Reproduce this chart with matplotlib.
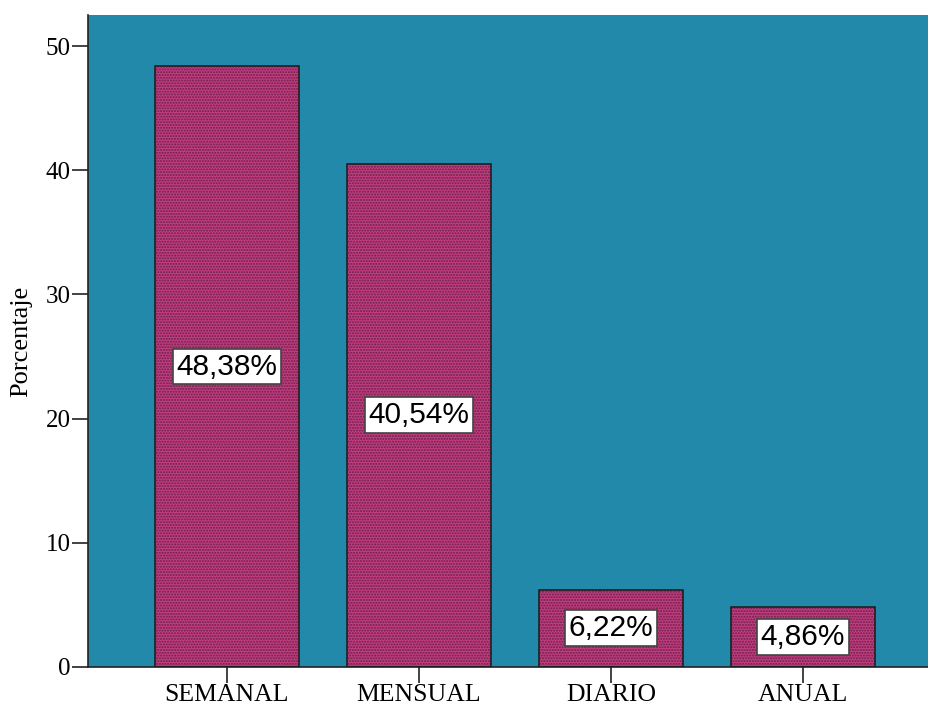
import matplotlib.pyplot as plt

categorias = ["SEMANAL", "MENSUAL", "DIARIO", "ANUAL"]
porcentajes = [48.38, 40.54, 6.22, 4.86]
etiquetas = ["48,38%", "40,54%", "6,22%", "4,86%"]
yticks = [0, 10, 20, 30, 40, 50]

fondo = "#2389ab"
barra = "#c23e80"
trama = "#6a1f48"

fig = plt.figure(figsize=(9.29, 7.11), dpi=100)
ax = fig.add_axes([0.0947, 0.0619, 1 - 0.0947, 0.917])
ax.set_facecolor(fondo)

x = range(len(categorias))
# relleno con trama de puntos
ax.bar(x, porcentajes, width=0.75, color=barra, edgecolor=trama,
       hatch="......", linewidth=0, zorder=2)
# contorno de las barras
ax.bar(x, porcentajes, width=0.75, fill=False, edgecolor="#1a1a1a",
       linewidth=1.1, zorder=3)

for i, (v, t) in enumerate(zip(porcentajes, etiquetas)):
    ax.text(i, v / 2, t, ha="center", va="center", fontsize=21.5,
            family="Liberation Sans", zorder=4,
            bbox=dict(boxstyle="square,pad=0.13", facecolor="white",
                      edgecolor="#444444", linewidth=1.2))

ax.set_xlim(-0.724, -0.724 + 841 / 192)
ax.set_ylim(0, 52.5)
ax.set_xticks(list(x))
ax.set_xticklabels(categorias, family="Liberation Serif", fontsize=18.5)
ax.set_yticks(yticks)
ax.set_yticklabels([str(v) for v in yticks], family="Liberation Serif",
                   fontsize=18)
ax.set_ylabel("Porcentaje", family="Liberation Serif", fontsize=19,
              labelpad=10)

ax.tick_params(axis="both", direction="out", length=11.5, width=1.2,
               color="#222222", pad=1)
ax.spines["top"].set_visible(False)
ax.spines["right"].set_visible(False)
ax.spines["left"].set_color("#222222")
ax.spines["bottom"].set_color("#222222")
ax.spines["left"].set_linewidth(1.2)
ax.spines["bottom"].set_linewidth(1.2)

fig.savefig("out.png", dpi=100)
